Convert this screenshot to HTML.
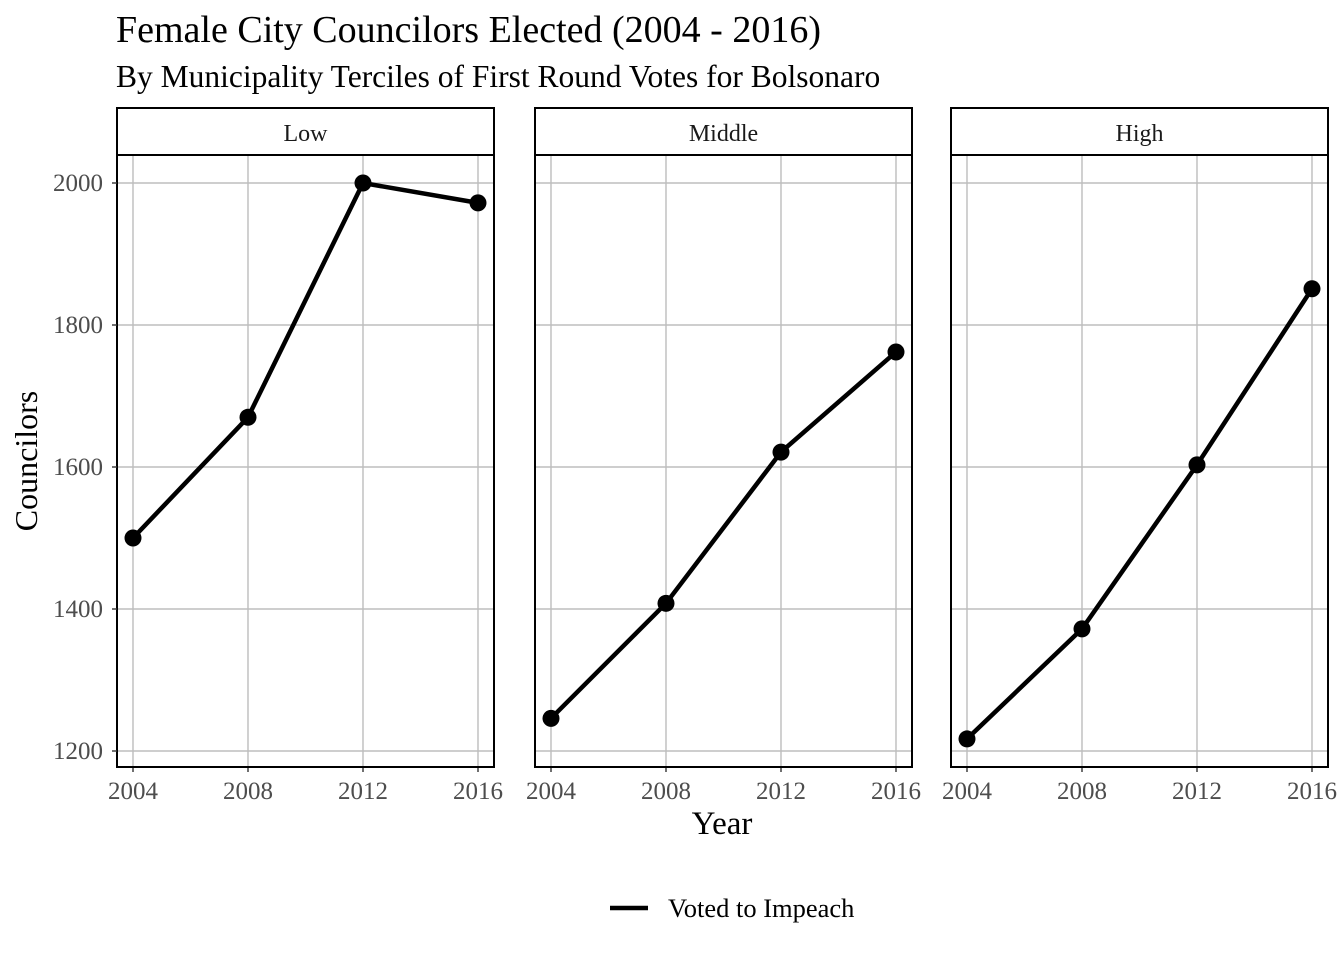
<!DOCTYPE html>
<html><head><meta charset="utf-8"><style>
body{margin:0;background:#fff;}
svg{display:block;font-family:"Liberation Serif",serif;}
</style></head><body>
<svg id="c" width="1344" height="960">
<text x="116" y="42" font-size="38" fill="#000">Female City Councilors Elected (2004 - 2016)</text>
<text x="116" y="87" font-size="31.5" fill="#000">By Municipality Terciles of First Round Votes for Bolsonaro</text>
<text x="722" y="834" font-size="33" text-anchor="middle" fill="#000">Year</text>
<text transform="translate(37,461) rotate(-90)" font-size="32" text-anchor="middle" fill="#000">Councilors</text>
<g>
<line x1="610" y1="908" x2="648" y2="908" stroke="#000" stroke-width="4.5"/>
<text x="668" y="917" font-size="26.5" fill="#000">Voted to Impeach</text>
</g>
</svg>
<script>
const panels=["Low","Middle","High"];
const years=[2004,2008,2012,2016];
const lowVals=[1500,1670,2000,1972];
const middleVals=[1246,1408,1621,1762];
const highVals=[1217,1372,1603,1851];
const yTicks=[1200,1400,1600,1800,2000];
const series=[lowVals,middleVals,highVals];
const svgEl=document.getElementById('c');
const NS='http://www.w3.org/2000/svg';
const panelX=[117,535,951], panelW=377, plotTop=155, plotBottom=767;
function yScale(v){return 751-(v-1200)*0.71;}
function mk(tag,attrs,parent){const e=document.createElementNS(NS,tag);for(const k in attrs)e.setAttribute(k,attrs[k]);(parent||svgEl).appendChild(e);return e;}
panels.forEach((p,i)=>{
  const px=panelX[i];
  const xScale=yr=>px+16+(yr-2004)*(345/12);
  const g=mk('g',{});
  
  
  yTicks.forEach(t=>{const l=mk('line',{x1:px,x2:px+panelW,y1:yScale(t),y2:yScale(t),stroke:'#bdbdbd','stroke-width':1.4},g);
    
    });
  years.forEach(yr=>{const l=mk('line',{x1:xScale(yr),x2:xScale(yr),y1:plotTop,y2:plotBottom,stroke:'#bdbdbd','stroke-width':1.4},g);
    
    
    const t=mk('text',{x:xScale(yr),y:799,'font-size':25,'text-anchor':'middle',fill:'#4d4d4d'},g);t.textContent=yr;
    
    
    mk('line',{x1:xScale(yr),x2:xScale(yr),y1:plotBottom,y2:plotBottom+5,stroke:'#333','stroke-width':1.4},g);});
  const b=mk('rect',{x:px,y:plotTop,width:panelW,height:plotBottom-plotTop,fill:'none',stroke:'#000','stroke-width':2},g);
  
  
  const s=mk('rect',{x:px,y:108,width:panelW,height:47,fill:'#fff',stroke:'#000','stroke-width':2},g);
  
  
  const st=mk('text',{x:px+panelW/2,y:141,'font-size':24,'text-anchor':'middle',fill:'#1a1a1a'},g);st.textContent=p;
  
  
  const vals=series[i];
  const pl=mk('polyline',{points:vals.map((v,j)=>xScale(years[j])+','+yScale(v)).join(' '),fill:'none',stroke:'#000','stroke-width':4.5},g);
  
  
  vals.forEach((v,j)=>{const c=mk('circle',{cx:xScale(years[j]),cy:yScale(v),r:8.5,fill:'#000'},g);
    
    });
  if(i===0){yTicks.forEach(t=>{const tl=mk('text',{x:103,y:yScale(t)+8,'font-size':25,'text-anchor':'end',fill:'#4d4d4d'},g);tl.textContent=t;
    
    
    mk('line',{x1:px-5,x2:px,y1:yScale(t),y2:yScale(t),stroke:'#333','stroke-width':1.4},g);});}
});
</script>
</body></html>
